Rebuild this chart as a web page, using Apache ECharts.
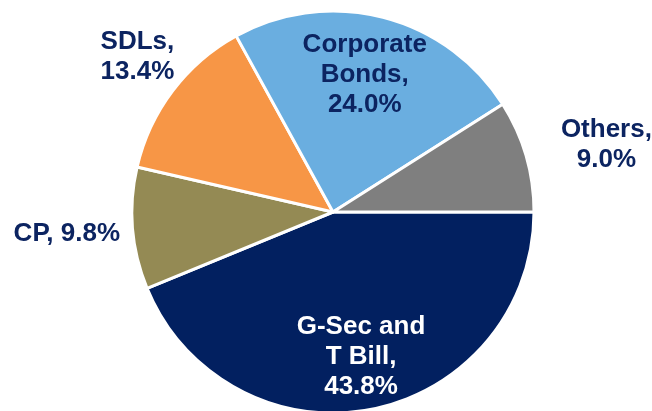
<!DOCTYPE html>
<html>
<head>
<meta charset="utf-8">
<script src="https://cdn.jsdelivr.net/npm/echarts@6/dist/echarts.min.js"></script>
<style>
html,body{margin:0;padding:0;background:#fff;}
#chart{width:652px;height:411px;}
</style>
</head>
<body>
<div id="chart"></div>
<script>
const categories = ['G-Sec and\nT Bill', 'CP', 'SDLs', 'Corporate\nBonds', 'Others'];
const shares = [43.8, 9.8, 13.4, 24.0, 9.0];
const colors = ['#022060', '#948a54', '#f79646', '#6aaee0', '#7f7f7f'];
const labelColors = ['#ffffff', '#0c2461', '#0c2461', '#0c2461', '#0c2461'];
const labelOffsets = [[8, 43], [-163, 13], [-113, -93], [6, -37], [174, -38]];
const labelSep = ['\n', ' ', '\n', '\n', '\n'];

const chart = echarts.init(document.getElementById('chart'), null, {renderer: 'canvas'});
chart.setOption({
  animation: false,
  backgroundColor: '#ffffff',
  series: [{
    type: 'pie',
    center: [333, 212],
    radius: [0, 201],
    startAngle: 0,
    clockwise: true,
    avoidLabelOverlap: false,
    labelLine: {show: false},
    itemStyle: {borderColor: '#ffffff', borderWidth: 3},
    emphasis: {disabled: true},
    data: categories.map((c, i) => ({
      name: c,
      value: shares[i],
      itemStyle: {color: colors[i]},
      label: {
        show: true,
        position: 'inside',
        offset: labelOffsets[i],
        color: labelColors[i],
        fontFamily: 'Liberation Sans, Arial, sans-serif',
        fontWeight: 'bold',
        fontSize: 26,
        lineHeight: 30,
        align: 'center',
        verticalAlign: 'middle',
        formatter: () => c + ',' + labelSep[i] + shares[i].toFixed(1) + '%'
      }
    }))
  }]
});
</script>
</body>
</html>
